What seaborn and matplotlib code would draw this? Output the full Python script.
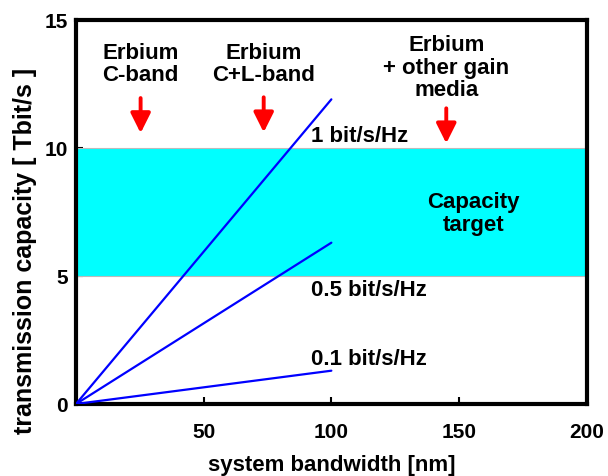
import pandas as pd
import matplotlib.pyplot as plt
import seaborn as sns

# data
bandwidth_nm = [0, 100]
efficiency_labels = ["1 bit/s/Hz", "0.5 bit/s/Hz", "0.1 bit/s/Hz"]
capacity_at_100nm = [11.9, 6.3, 1.3]
target_low, target_high = 5, 10
x_ticks = [50, 100, 150, 200]
y_ticks = [0, 5, 10, 15]

gain_labels = ["Erbium\nC-band", "Erbium\nC+L-band", "Erbium\n+ other gain\nmedia"]
gain_x = [25.3, 73.5, 145]

rows = []
for lab, c in zip(efficiency_labels, capacity_at_100nm):
    for b in bandwidth_nm:
        rows.append({"bandwidth": b, "capacity": c * b / 100, "eff": lab})
df = pd.DataFrame(rows)

sns.set_style("white", {"xtick.bottom": True, "ytick.left": True,
                        "text.color": "black", "axes.labelcolor": "black",
                        "xtick.color": "black", "ytick.color": "black"})
plt.rcParams["font.family"] = ["Liberation Sans", "DejaVu Sans"]
plt.rcParams["font.weight"] = "bold"

fig = plt.figure(figsize=(6.08, 4.77), dpi=100)
ax = fig.add_axes([0.125, 0.151, 0.840, 0.805])

# capacity target band
ax.fill_between([0, 200], target_low, target_high, color="#00FFFF",
                edgecolor="#BBBBBB", linewidth=0.8, zorder=1)

sns.lineplot(data=df, x="bandwidth", y="capacity", units="eff", estimator=None,
             color="#0000FF", linewidth=1.6, ax=ax, zorder=3, legend=False)

# line labels
ax.text(92, 10.5, "1 bit/s/Hz", fontsize=16, fontweight="bold", va="center")
ax.text(92, 4.47, "0.5 bit/s/Hz", fontsize=16, fontweight="bold", va="center")
ax.text(92, 1.76, "0.1 bit/s/Hz", fontsize=16, fontweight="bold", va="center")
ax.text(155.5, 7.45, "Capacity\ntarget", fontsize=16, fontweight="bold",
        ha="center", va="center", linespacing=1.15)

# gain media annotations
text_y = [13.3, 13.3, 13.15]
arrow_top = [11.95, 11.98, 11.55]
for lab, gx, ty, at in zip(gain_labels, gain_x, text_y, arrow_top):
    ax.text(gx, ty, lab, fontsize=16, fontweight="bold", ha="center",
            va="center", linespacing=1.1)
    ax.annotate("", xy=(gx, at - 1.37), xytext=(gx, at),
                arrowprops=dict(arrowstyle="-|>,head_width=0.4,head_length=0.8",
                                mutation_scale=15, color="#FF0000", lw=2.8,
                                shrinkA=0, shrinkB=0))

ax.set_xlim(0, 200)
ax.set_ylim(0, 15)
ax.set_xticks(x_ticks)
ax.set_yticks(y_ticks)
ax.tick_params(direction="in", length=5, width=1.5, labelsize=15)
ax.tick_params(axis="x", pad=13)
ax.tick_params(axis="y", pad=6)
for t in ax.get_xticklabels() + ax.get_yticklabels():
    t.set_fontweight("bold")
for s in ax.spines.values():
    s.set_linewidth(3)
    s.set_color("black")

ax.set_xlabel("system bandwidth [nm]", fontsize=16, fontweight="bold", labelpad=9)
ax.set_ylabel("transmission capacity [ Tbit/s ]", fontsize=18, fontweight="bold")
ax.yaxis.set_label_coords(-0.076, 0.40)

plt.savefig("out.png", dpi=100)
plt.close()
